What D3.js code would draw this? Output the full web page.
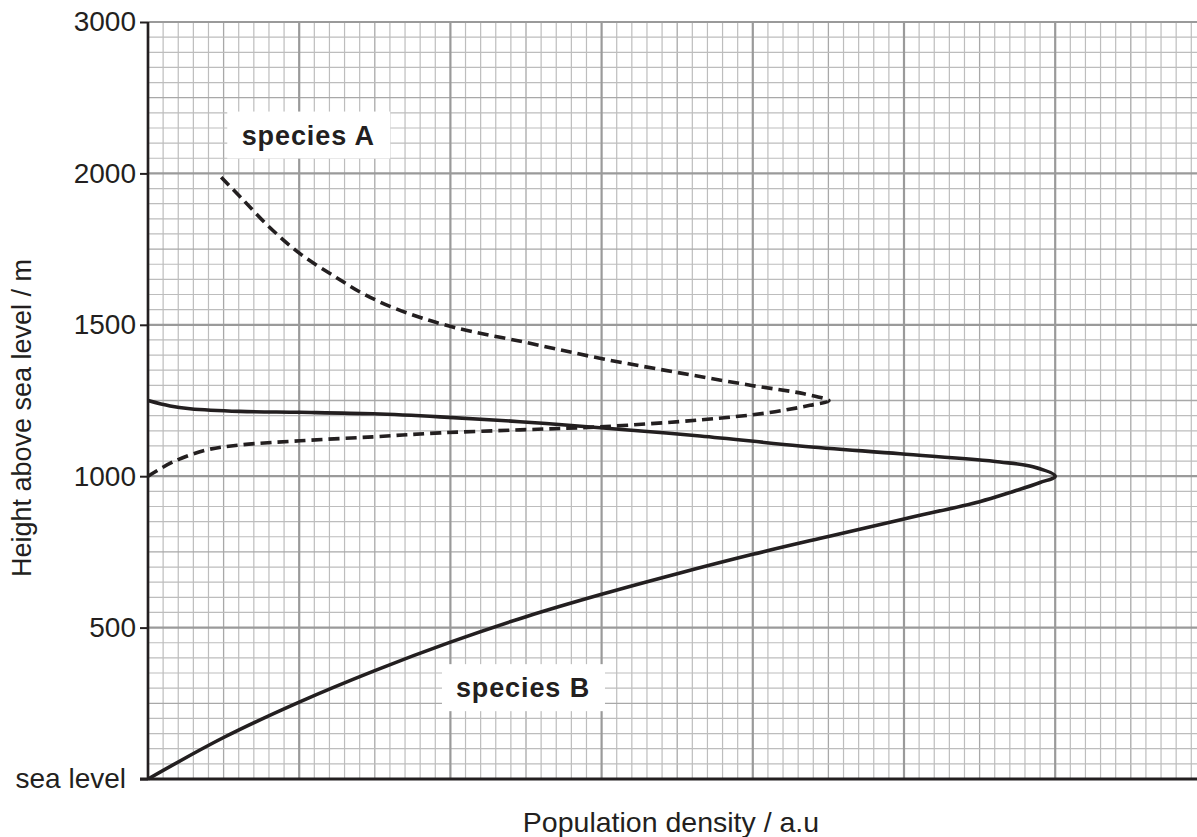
<!DOCTYPE html>
<html>
<head>
<meta charset="utf-8">
<script src="https://cdn.jsdelivr.net/npm/d3@7/dist/d3.min.js"></script>
<style>
  html, body { margin: 0; padding: 0; background: #fff; }
  svg { display: block; font-family: "Liberation Sans", Arial, sans-serif; }
</style>
</head>
<body>
<svg id="chart" width="1197" height="837"></svg>
<script>
// ---- data ----
const yTickValues = [0, 500, 1000, 1500, 2000, 2500];
const yTickLabels = ["sea level", "500", "1000", "1500", "2000", "3000"];

// species A (dashed): population density (a.u.) and height (m), in path order
const speciesA_density = [0, 0.165, 0.39, 0.608, 1.005, 1.488, 1.931, 2.46, 2.989, 3.651, 4.094, 4.378, 4.504,
  4.339, 4.001, 3.585, 3.003, 2.507, 2.004, 1.64, 1.422, 1.237, 1.005, 0.80, 0.615, 0.46];
const speciesA_height = [1000, 1047, 1087, 1103, 1117, 1130, 1143, 1153, 1163, 1186, 1209, 1234, 1249,
  1272, 1299, 1335, 1388, 1441, 1494, 1553, 1603, 1659, 1735, 1824, 1920, 2000];

// species B (solid)
const speciesB_density = [0, 0.5, 1.0, 1.5, 2.0, 2.5, 3.0, 3.5, 4.0, 4.5, 5.0, 5.5, 5.7, 5.9, 6.0,
  5.853, 5.635, 4.974, 4.312, 3.651, 2.989, 2.46, 1.931, 1.488, 1.005, 0.608, 0.278, 0.146, 0];
const speciesB_height = [0, 137, 254, 358, 452, 536, 610, 678, 742, 801, 859, 916, 946, 979, 1000,
  1031, 1047, 1074, 1100, 1133, 1160, 1180, 1196, 1206, 1211, 1214, 1223, 1232, 1250];

const labelTexts = ["species A", "species B"];
const labelDensity = [1.06, 2.48];
const labelHeight = [2125, 300];

// ---- layout ----
const svg = d3.select("#chart");
const mLeft = 148, mTop = 22, mBottom = 779;
const unitPx = 151.2;
const x = d3.scaleLinear().domain([0, 7]).range([mLeft, mLeft + 7 * unitPx]);
const y = d3.scaleLinear().domain([0, 2500]).range([mBottom, mTop]);

// ---- grid ----
const grid = svg.append("g");
const vMinor = d3.range(0, 71, 1).map(i => i / 10);
const hMinor = d3.range(0, 51, 1).map(i => i * 50);

function gridStyle(i) {
  if (i % 10 === 0) return { c: "#9a9a9a", w: 2.2 };
  if (i % 5 === 0) return { c: "#a8a8a8", w: 1.3 };
  return { c: "#bdbdbd", w: 1.2 };
}

[false, true].forEach(major => {
  vMinor.forEach((v, i) => {
    if ((i % 10 === 0) !== major) return;
    const s = gridStyle(i);
    grid.append("line")
      .attr("x1", x(v)).attr("x2", x(v))
      .attr("y1", y(2500)).attr("y2", y(0))
      .attr("stroke", s.c).attr("stroke-width", s.w);
  });
  hMinor.forEach((h, i) => {
    if ((i % 10 === 0) !== major) return;
    const s = gridStyle(i);
    grid.append("line")
      .attr("x1", x(0)).attr("x2", x(7))
      .attr("y1", y(h)).attr("y2", y(h))
      .attr("stroke", s.c).attr("stroke-width", s.w);
  });
});

// ---- label boxes (white background) ----
labelTexts.forEach((txt, i) => {
  const cx = x(labelDensity[i]), cy = y(labelHeight[i]);
  const g = svg.append("g");
  g.append("rect")
    .attr("x", cx - 81).attr("y", cy - 24)
    .attr("width", 163).attr("height", 47)
    .attr("fill", "#fff");
  g.append("text")
    .attr("x", cx).attr("y", cy)
    .attr("text-anchor", "middle")
    .attr("dominant-baseline", "central")
    .attr("font-size", 27)
    .attr("font-weight", "bold")
    .attr("letter-spacing", 0.9)
    .attr("fill", "#231f20")
    .text(txt);
});

// ---- curves ----
const line = d3.line()
  .x(d => x(d[0])).y(d => y(d[1]))
  .curve(d3.curveCatmullRom.alpha(0.5));

const dataA = speciesA_density.map((v, i) => [v, speciesA_height[i]]);
const dataB = speciesB_density.map((v, i) => [v, speciesB_height[i]]);

svg.append("path")
  .attr("d", line(dataB))
  .attr("fill", "none")
  .attr("stroke", "#231f20")
  .attr("stroke-width", 3.6)
  .attr("stroke-linejoin", "round");

svg.append("path")
  .attr("d", line(dataA))
  .attr("fill", "none")
  .attr("stroke", "#231f20")
  .attr("stroke-width", 3.6)
  .attr("stroke-dasharray", "11,6");

// ---- axes ----
const yAxis = d3.axisLeft(y)
  .tickValues(yTickValues)
  .tickFormat((d, i) => yTickLabels[i])
  .tickSize(8)
  .tickPadding(4);

const ya = svg.append("g")
  .attr("transform", `translate(${mLeft},0)`)
  .call(yAxis);
ya.select(".domain").remove();
ya.selectAll(".tick line").attr("stroke", "#231f20").attr("stroke-width", 2);
ya.selectAll(".tick text")
  .attr("font-size", 28)
  .attr("fill", "#231f20")
  .attr("font-family", "'Liberation Sans', Arial, sans-serif");
ya.selectAll(".tick").filter(d => d === 0).select("text").attr("dx", -10);

svg.append("line")
  .attr("x1", mLeft).attr("x2", mLeft)
  .attr("y1", y(2500)).attr("y2", y(0) + 1)
  .attr("stroke", "#231f20").attr("stroke-width", 2.6);
svg.append("line")
  .attr("x1", mLeft - 8).attr("x2", 1197)
  .attr("y1", y(0)).attr("y2", y(0))
  .attr("stroke", "#231f20").attr("stroke-width", 3);

svg.append("text")
  .attr("transform", `translate(22,418) rotate(-90)`)
  .attr("text-anchor", "middle")
  .attr("dominant-baseline", "central")
  .attr("font-size", 27)
  .attr("fill", "#231f20")
  .text("Height above sea level / m");

svg.append("text")
  .attr("x", 671).attr("y", 822)
  .attr("text-anchor", "middle")
  .attr("dominant-baseline", "central")
  .attr("font-size", 28.5)
  .attr("fill", "#231f20")
  .text("Population density / a.u");
</script>
</body>
</html>
